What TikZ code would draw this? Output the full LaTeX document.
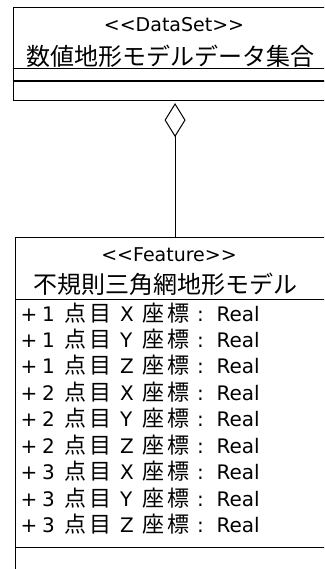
\documentclass[tikz,border=0pt]{standalone}
\usepackage{fontspec}
\setmainfont{DejaVu Sans}
\newfontfamily\jp{Noto Sans CJK JP}
\usetikzlibrary{arrows.meta}
\newcommand\attrtext[2]{\rlap{+}\hspace{21.5pt}\rlap{#1}\hspace{22.5pt}\rlap{\jp\fontsize{22}{24}\selectfont 点}\hspace{25pt}\rlap{\jp\fontsize{22}{24}\selectfont 目}\hspace{30.5pt}\rlap{#2}\hspace{22.5pt}\rlap{\jp\fontsize{22}{24}\selectfont 座}\hspace{25pt}\rlap{\jp\fontsize{22}{24}\selectfont 標}\hspace{29.6pt}\rlap{:}\hspace{19.4pt}Real}
\begin{document}
\begin{tikzpicture}[x=1pt,y=-1pt,line width=1.1pt,
  box/.style={draw,rectangle,inner sep=0pt,anchor=north west},
  stereo/.style={font=\fontsize{19}{21}\selectfont,inner sep=0pt},
  ctitle/.style={font=\jp\fontsize{24}{26}\selectfont,inner sep=0pt},
  attr/.style={font=\fontsize{20}{22}\selectfont,inner sep=0pt,anchor=base west}]
\useasboundingbox (0,0) rectangle (324,569);
\clip (0,0) rectangle (324,569);
% DataSet class
\node[box,minimum width=324pt,minimum height=93.3pt] (ds) at (12.5,6.7) {};
\draw (ds.west |- 0,68.3) -- (ds.east |- 0,68.3);
\draw (ds.west |- 0,81) -- (ds.east |- 0,81);
\node[stereo] (dsst) at (174,25) {<{}<DataSet>{}>};
\node[ctitle] (dsname) at (170.8,56) {数値地形モデルデータ集合};
% Feature class
\node[box,minimum width=319pt,minimum height=360pt] (fe) at (15,237) {};
\draw (fe.west |- 0,299.3) -- (fe.east |- 0,299.3);
\draw (fe.west |- 0,547.3) -- (fe.east |- 0,547.3);
\node[stereo] (fest) at (169,255) {<{}<Feature>{}>};
\node[ctitle] (fename) at (165,284) {不規則三角網地形モデル};
\node[attr] (a1) at (20,321) {\attrtext{1}{X}};
\node[attr] (a2) at (20,347) {\attrtext{1}{Y}};
\node[attr] (a3) at (20,373) {\attrtext{1}{Z}};
\node[attr] (a4) at (20,400) {\attrtext{2}{X}};
\node[attr] (a5) at (20,426) {\attrtext{2}{Y}};
\node[attr] (a6) at (20,453) {\attrtext{2}{Z}};
\node[attr] (a7) at (20,479) {\attrtext{3}{X}};
\node[attr] (a8) at (20,506) {\attrtext{3}{Y}};
\node[attr] (a9) at (20,532) {\attrtext{3}{Z}};
% aggregation
\draw[-{Diamond[open,length=34pt,width=21pt,line width=1pt]},shorten >=2pt] (fe.north) -- (ds.south);
\end{tikzpicture}
\end{document}
